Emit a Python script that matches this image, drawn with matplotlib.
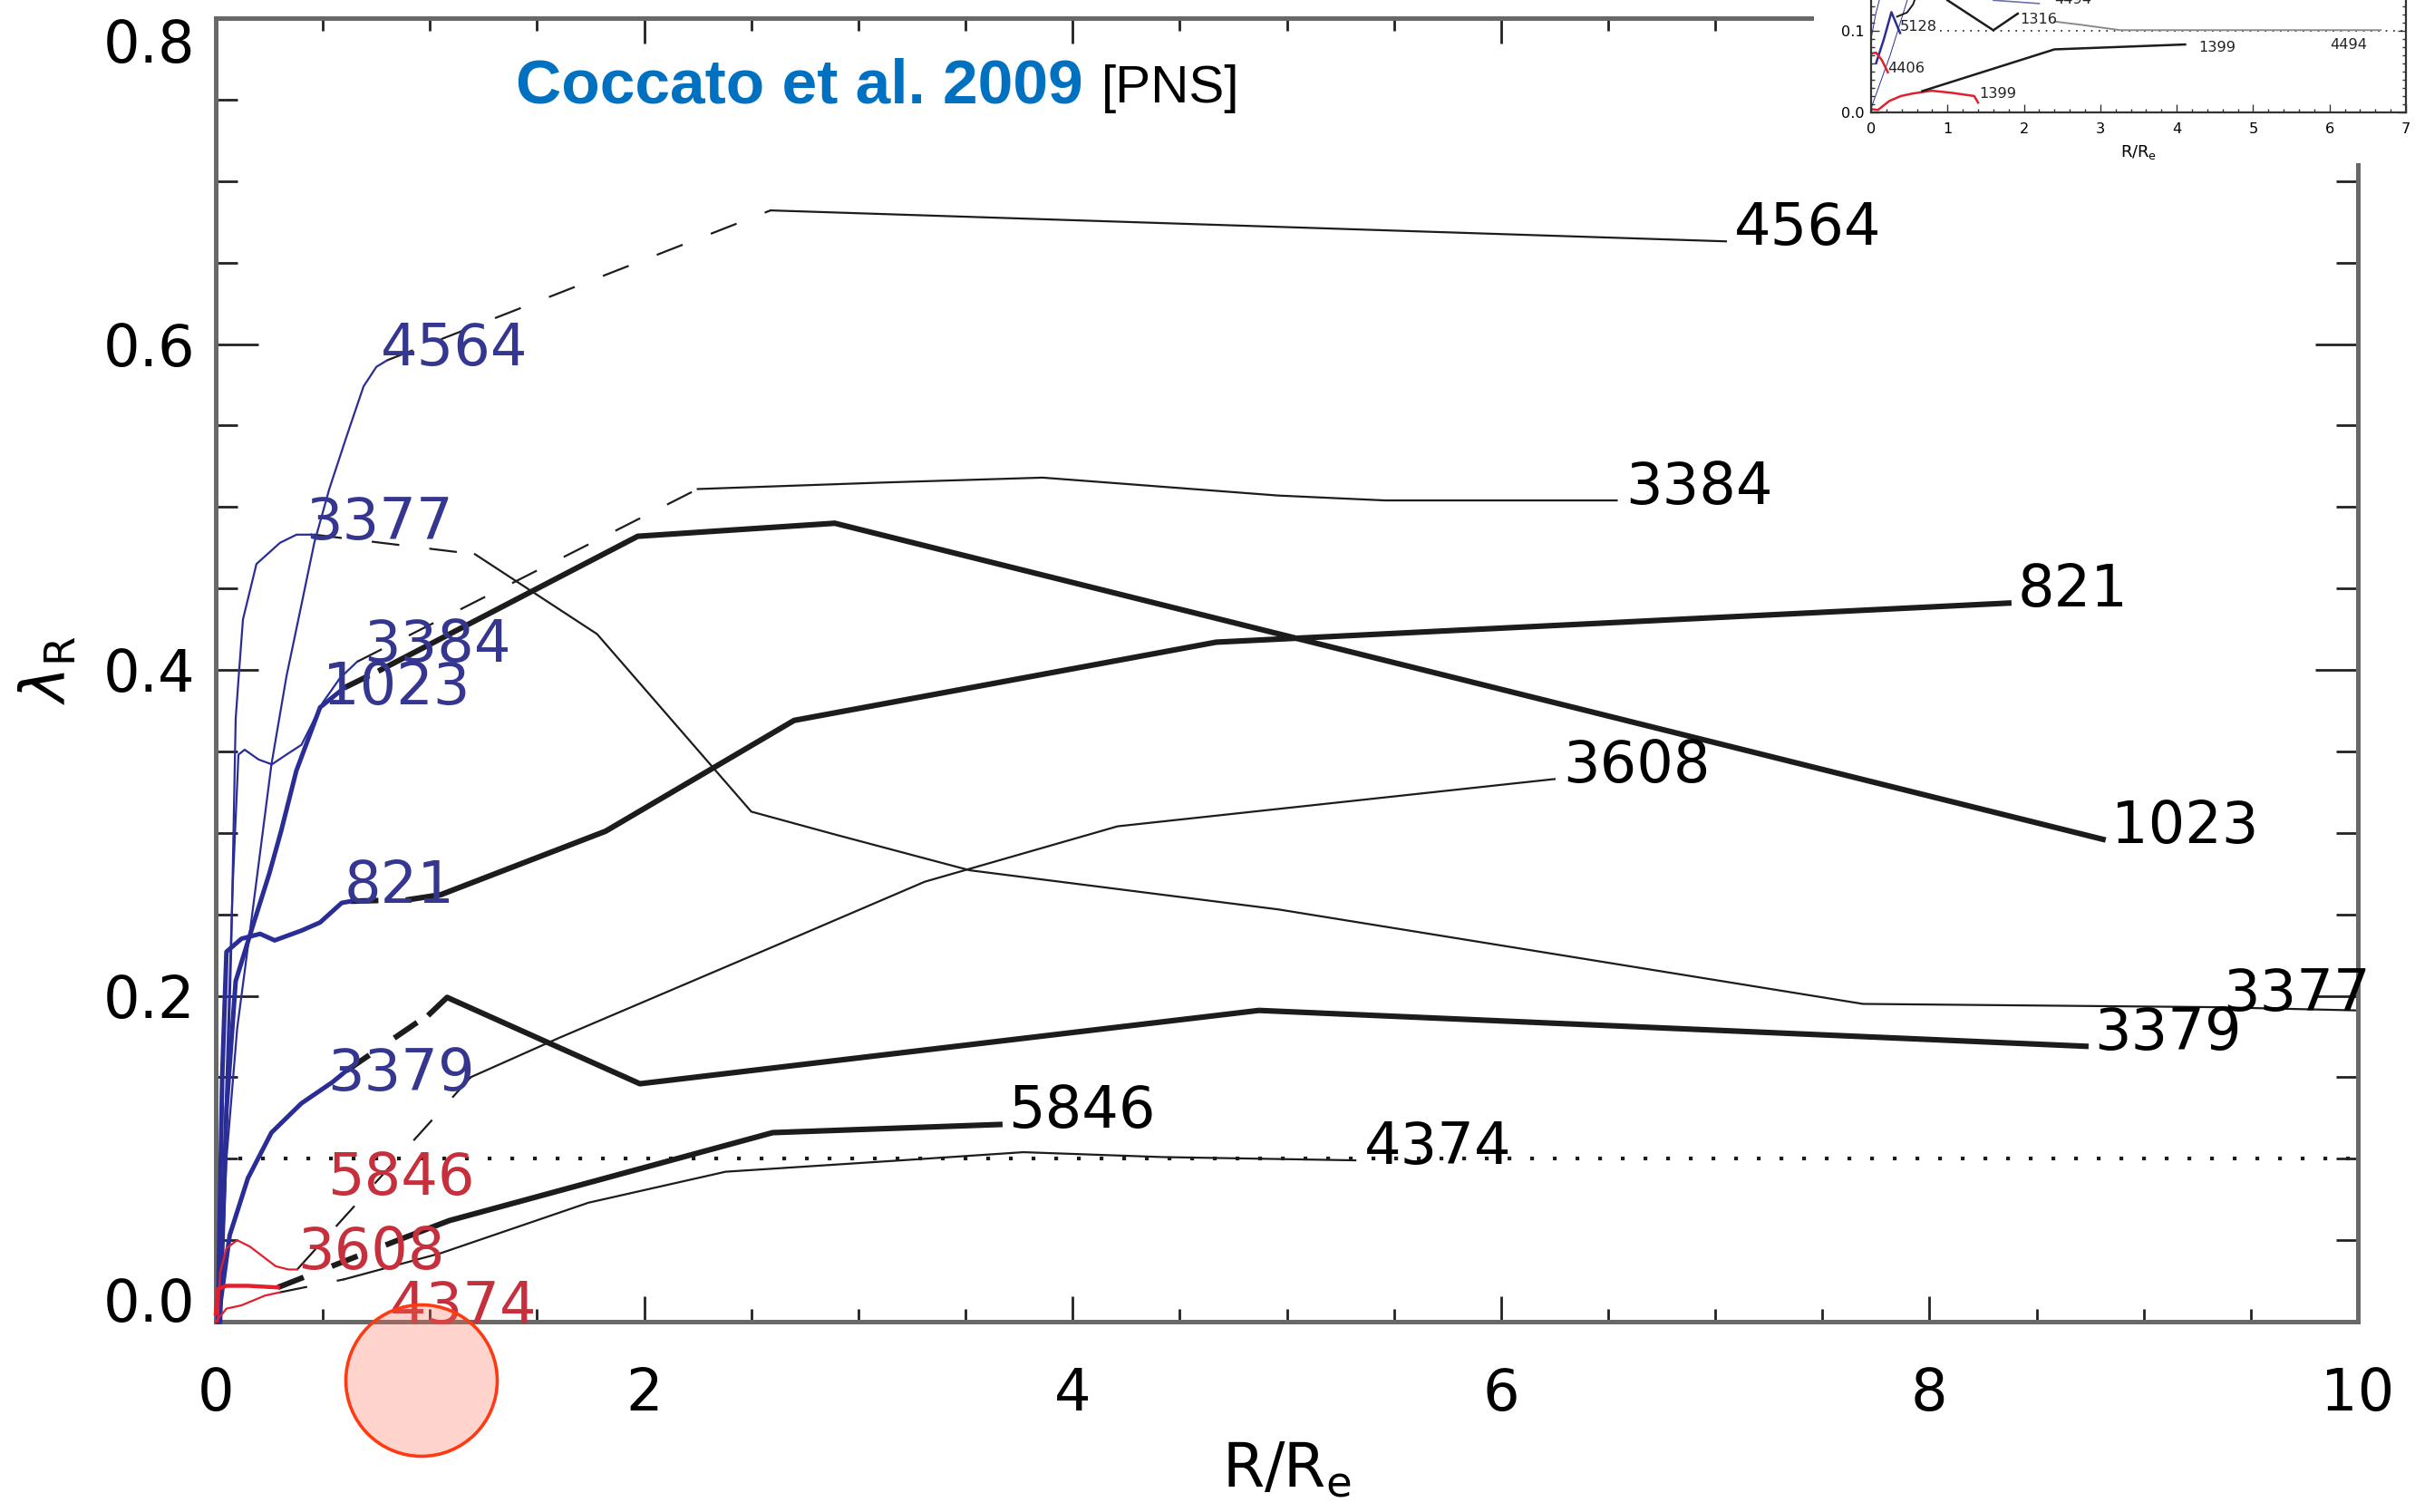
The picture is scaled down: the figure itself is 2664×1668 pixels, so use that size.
import matplotlib
matplotlib.use("Agg")
import matplotlib.pyplot as plt
from matplotlib.patches import Circle, Rectangle
from matplotlib.ticker import MultipleLocator, FormatStrFormatter

plt.rcParams['font.family'] = ['DejaVu Sans']
plt.rcParams['mathtext.fontset'] = 'dejavusans'
plt.rcParams['lines.scale_dashes'] = False
plt.rcParams['lines.solid_joinstyle'] = 'round'

# ---------------- main panel: lambda_R profiles vs R/Re ----------------
galaxies = ['4564', '3377', '3384', '1023', '821', '3379', '3608', '5846', '4374']

# inner (integral-field) profiles
inner_4564_x = [0.02, 0.05, 0.10, 0.17, 0.26, 0.33, 0.40, 0.46, 0.53, 0.61, 0.69, 0.75, 0.80]
inner_4564_y = [0.00, 0.10, 0.18, 0.25, 0.342, 0.396, 0.44, 0.478, 0.511, 0.543, 0.574, 0.586, 0.59]
inner_3377_x = [0.02, 0.05, 0.072, 0.093, 0.106, 0.127, 0.19, 0.30, 0.377, 0.46]
inner_3377_y = [0.00, 0.12, 0.227, 0.37, 0.394, 0.431, 0.465, 0.478, 0.483, 0.483]
inner_3384_x = [0.02, 0.05, 0.08, 0.106, 0.135, 0.20, 0.262, 0.33, 0.40, 0.50, 0.58, 0.66]
inner_3384_y = [0.00, 0.15, 0.27, 0.348, 0.351, 0.345, 0.342, 0.348, 0.354, 0.38, 0.395, 0.405]
inner_1023_x = [0.02, 0.05, 0.093, 0.178, 0.25, 0.305, 0.376, 0.43, 0.487, 0.60]
inner_1023_y = [0.00, 0.13, 0.209, 0.245, 0.275, 0.301, 0.338, 0.357, 0.377, 0.389]
inner_821_x = [0.01, 0.03, 0.05, 0.12, 0.207, 0.275, 0.40, 0.487, 0.588, 0.63]
inner_821_y = [0.00, 0.15, 0.227, 0.235, 0.238, 0.234, 0.24, 0.245, 0.257, 0.258]
inner_3379_x = [0.01, 0.065, 0.15, 0.26, 0.40, 0.545, 0.61]
inner_3379_y = [0.00, 0.053, 0.088, 0.116, 0.134, 0.147, 0.154]
inner_3608_x = [0.01, 0.02, 0.05, 0.10, 0.16, 0.22, 0.28, 0.34, 0.38]
inner_3608_y = [0.00, 0.03, 0.045, 0.05, 0.046, 0.04, 0.034, 0.032, 0.032]
inner_5846_x = [0.00, 0.01, 0.05, 0.15, 0.29]
inner_5846_y = [0.005, 0.02, 0.022, 0.022, 0.021]
inner_4374_x = [0.00, 0.05, 0.12, 0.23, 0.30]
inner_4374_y = [0.00, 0.008, 0.010, 0.016, 0.018]

# outer (planetary nebulae) profiles
outer_4564_x = [2.59, 7.05]
outer_4564_y = [0.682, 0.663]
outer_3377_x = [1.21, 1.78, 2.50, 2.89, 3.52, 4.96, 7.69, 9.33, 10.0]
outer_3377_y = [0.471, 0.422, 0.313, 0.299, 0.277, 0.253, 0.195, 0.193, 0.191]
outer_3384_x = [2.25, 3.12, 3.86, 4.96, 5.46, 6.54]
outer_3384_y = [0.511, 0.515, 0.518, 0.507, 0.504, 0.504]
outer_1023_x = [0.77, 1.97, 2.89, 8.81]
outer_1023_y = [0.40, 0.482, 0.490, 0.296]
outer_821_x = [0.90, 1.05, 1.82, 2.70, 4.67, 8.37]
outer_821_y = [0.259, 0.262, 0.301, 0.369, 0.417, 0.441]
outer_3379_x = [1.00, 1.08, 1.98, 4.87, 8.73]
outer_3379_y = [0.189, 0.199, 0.146, 0.191, 0.169]
outer_3608_x = [1.19, 1.60, 2.60, 3.31, 4.21, 6.25]
outer_3608_y = [0.150, 0.174, 0.230, 0.270, 0.304, 0.333]
outer_5846_x = [0.87, 1.09, 2.60, 3.66]
outer_5846_y = [0.051, 0.062, 0.116, 0.121]
outer_4374_x = [0.60, 1.05, 1.74, 2.38, 3.20, 3.77, 4.42, 5.32]
outer_4374_y = [0.026, 0.042, 0.073, 0.092, 0.099, 0.104, 0.101, 0.099]

# anchors of the coloured names next to the inner profiles
inner_label_x = [0.77, 0.42, 0.69, 0.50, 0.60, 0.52, 0.38, 0.52, 0.81]
inner_label_y = [0.587, 0.480, 0.405, 0.379, 0.257, 0.142, 0.032, 0.078, -0.001]

lambda_threshold = 0.1

xticks = [0, 2, 4, 6, 8, 10]
yticks = [0.0, 0.2, 0.4, 0.6, 0.8]

# ---------------- inset panel ----------------
ins_red_1399_x = [0.0, 0.09, 0.24, 0.39, 0.54, 0.79, 1.05, 1.35, 1.40]
ins_red_1399_y = [0.004, 0.003, 0.014, 0.020, 0.023, 0.0265, 0.024, 0.020, 0.012]
ins_black_1399_x = [0.67, 2.40, 4.11]
ins_black_1399_y = [0.026, 0.077, 0.083]
ins_red_4406_x = [0.0, 0.065, 0.14, 0.22]
ins_red_4406_y = [0.072, 0.073, 0.064, 0.049]
ins_blue_5128_x = [0.065, 0.166, 0.266, 0.38]
ins_blue_5128_y = [0.06, 0.089, 0.1225, 0.097]
ins_black_5128_x = [0.34, 0.47, 0.55, 0.58]
ins_black_5128_y = [0.117, 0.122, 0.132, 0.14]
ins_black_1316_x = [1.0, 1.6, 1.92]
ins_black_1316_y = [0.137, 0.1004, 0.1207]
ins_gray_4494_x = [2.4, 2.75, 3.26, 6.67]
ins_gray_4494_y = [0.111, 0.107, 0.1005, 0.1005]
ins_blue_4494_x = [1.6, 2.2]
ins_blue_4494_y = [0.137, 0.133]
ins_blue_a_x = [0.0, 0.25, 0.5]
ins_blue_a_y = [0.005, 0.07, 0.145]
ins_blue_b_x = [0.0, 0.06, 0.13]
ins_blue_b_y = [0.09, 0.12, 0.145]
ins_labels = ['5128', '1316', '4406', '1399', '1399', '4494', '4494']
ins_label_x = [0.38, 1.95, 0.22, 1.42, 4.29, 6.0, 2.4]
ins_label_y = [0.100, 0.1085, 0.049, 0.018, 0.074, 0.078, 0.133]

# ---------------- drawing ----------------
BLUE_LINE = '#2A2D96'
BLUE_TEXT = '#35368F'
RED_LINE = '#E0202C'
RED_TEXT = '#C5303C'
BLACK = '#1c1c1c'

inner = {
    '4564': (inner_4564_x, inner_4564_y), '3377': (inner_3377_x, inner_3377_y),
    '3384': (inner_3384_x, inner_3384_y), '1023': (inner_1023_x, inner_1023_y),
    '821': (inner_821_x, inner_821_y), '3379': (inner_3379_x, inner_3379_y),
    '3608': (inner_3608_x, inner_3608_y), '5846': (inner_5846_x, inner_5846_y),
    '4374': (inner_4374_x, inner_4374_y),
}
outer = {
    '4564': (outer_4564_x, outer_4564_y), '3377': (outer_3377_x, outer_3377_y),
    '3384': (outer_3384_x, outer_3384_y), '1023': (outer_1023_x, outer_1023_y),
    '821': (outer_821_x, outer_821_y), '3379': (outer_3379_x, outer_3379_y),
    '3608': (outer_3608_x, outer_3608_y), '5846': (outer_5846_x, outer_5846_y),
    '4374': (outer_4374_x, outer_4374_y),
}
thick = {'1023', '821', '3379', '5846'}
red_group = {'3608', '5846', '4374'}
label_index = {'3377': -2}

fig = plt.figure(figsize=(13.32, 8.34), dpi=200)
fig.patch.set_facecolor('white')
ax = fig.add_axes([238 / 2664, 1 - 1458 / 1668, (2601 - 238) / 2664, (1458 - 20) / 1668])
ax.set_xlim(0, 10)
ax.set_ylim(0, 0.8)

ax.axhline(lambda_threshold, color=BLACK, lw=1.5, ls=(0, (1.5, 7.5)), zorder=1)

for g, lx, ly in zip(galaxies, inner_label_x, inner_label_y):
    ix, iy = inner[g]
    ox, oy = outer[g]
    is_red = g in red_group
    col_line = RED_LINE if is_red else BLUE_LINE
    col_text = RED_TEXT if is_red else BLUE_TEXT
    w_in = 1.8 if (g in thick and not is_red) else (1.6 if g == '5846' else 0.8)
    w_out = 2.2 if g in thick else 0.8
    ax.plot(ix, iy, color=col_line, lw=w_in, zorder=3, clip_on=False)
    # dashed link from inner to outer profile
    ax.plot([ix[-1], ox[0]], [iy[-1], oy[0]], color=BLACK, lw=w_out,
            dashes=(11, 12), zorder=2)
    ax.plot(ox, oy, color=BLACK, lw=w_out, zorder=2)
    k = label_index.get(g, -1)
    ax.text(ox[k] + 0.04, oy[k] - 0.002, g, fontsize=23, color='black',
            ha='left', va='baseline', zorder=4, clip_on=False)
    ax.text(lx, ly, g, fontsize=23, color=col_text, ha='left', va='baseline',
            zorder=4, clip_on=False)

for side in ['left', 'right', 'top', 'bottom']:
    ax.spines[side].set_color('#686868')
    ax.spines[side].set_linewidth(1.8)

ax.set_xticks(xticks)
ax.set_yticks(yticks)
ax.xaxis.set_minor_locator(MultipleLocator(0.5))
ax.yaxis.set_minor_locator(MultipleLocator(0.05))
ax.xaxis.set_major_formatter(FormatStrFormatter('%d'))
ax.yaxis.set_major_formatter(FormatStrFormatter('%.1f'))
ax.tick_params(axis='both', which='both', direction='in', top=True, right=True,
               color='#222222', width=1.0)
ax.tick_params(axis='x', which='major', length=10, pad=17.5, labelsize=23)
ax.tick_params(axis='x', which='minor', length=5)
ax.tick_params(axis='y', which='major', length=17, pad=8, labelsize=23)
ax.tick_params(axis='y', which='minor', length=8.5)
yt = ax.yaxis.get_major_ticks()
yt[0].label1.set_va('baseline')
yt[-1].label1.set_va('top')

ax.set_xlabel(r'R/R$_\mathregular{e}$', fontsize=24)
ax.xaxis.set_label_coords(0.5, -0.091)
ax.set_ylabel(r'$\lambda_\mathrm{R}$', fontsize=24, va='center')
ax.yaxis.set_label_coords(-0.078, 0.5)

fig.text(569 / 2664, 1 - 113 / 1668, 'Coccato et al. 2009', color='#0070C0',
         fontsize=25, fontweight='bold', family='Liberation Sans', va='baseline')
fig.text(1215 / 2664, 1 - 113 / 1668, '[PNS]', color='black', fontsize=21,
         family='Liberation Sans', va='baseline')

# inset panel in the upper right corner
fig.add_artist(Rectangle((2001 / 2664, 1 - 180 / 1668), 663 / 2664, 180 / 1668,
                         transform=fig.transFigure, facecolor='white',
                         edgecolor='none', zorder=2))
ins = fig.add_axes([2064 / 2664, 1 - 124 / 1668, 590 / 2664, 180.6 / 1668], zorder=3)
ins.set_facecolor('none')
ins.set_xlim(0, 7)
ins.set_ylim(0, 0.2)
ins.plot([0.9, 7.0], [lambda_threshold, lambda_threshold], color=BLACK, lw=0.6,
         ls=(0, (0.6, 2.4)))
ins.plot(ins_blue_a_x, ins_blue_a_y, color=BLUE_LINE, lw=0.35)
ins.plot(ins_blue_b_x, ins_blue_b_y, color=BLUE_LINE, lw=0.35)
ins.plot(ins_blue_5128_x, ins_blue_5128_y, color=BLUE_LINE, lw=0.9)
ins.plot(ins_blue_4494_x, ins_blue_4494_y, color='#6a6fb0', lw=0.6)
ins.plot(ins_red_1399_x, ins_red_1399_y, color=RED_LINE, lw=0.9)
ins.plot(ins_red_4406_x, ins_red_4406_y, color=RED_LINE, lw=0.9)
ins.plot(ins_black_1399_x, ins_black_1399_y, color=BLACK, lw=0.9)
ins.plot(ins_black_5128_x, ins_black_5128_y, color=BLACK, lw=0.7)
ins.plot(ins_black_1316_x, ins_black_1316_y, color=BLACK, lw=0.9)
ins.plot(ins_gray_4494_x, ins_gray_4494_y, color='#8a8a8a', lw=0.7)
for t, x, y in zip(ins_labels, ins_label_x, ins_label_y):
    ins.text(x, y, t, fontsize=5.8, ha='left', va='baseline', color='#222222')
for side in ['left', 'right', 'top', 'bottom']:
    ins.spines[side].set_color('#333333')
    ins.spines[side].set_linewidth(0.8)
ins.xaxis.set_major_locator(MultipleLocator(1))
ins.xaxis.set_minor_locator(MultipleLocator(0.2))
ins.yaxis.set_major_locator(MultipleLocator(0.1))
ins.yaxis.set_minor_locator(MultipleLocator(0.01))
ins.xaxis.set_major_formatter(FormatStrFormatter('%d'))
ins.yaxis.set_major_formatter(FormatStrFormatter('%.1f'))
ins.tick_params(axis='both', which='both', direction='in', top=True, right=True,
                color='#333333', width=0.5, labelsize=5.8)
ins.tick_params(axis='both', which='major', length=3.2)
ins.tick_params(axis='both', which='minor', length=1.6)
ins.tick_params(axis='x', which='major', pad=4)
ins.tick_params(axis='y', which='major', pad=2.5)
ins.set_xlabel(r'R/R$_\mathregular{e}$', fontsize=6.5)
ins.xaxis.set_label_coords(0.5, -0.19)

# highlight marker near the lower left
fig.add_artist(Circle((465 / 200, (1668 - 1523) / 200), 83.5 / 200,
                      transform=fig.dpi_scale_trans,
                      facecolor=(1.0, 0.45, 0.35, 0.3), edgecolor='#FF3A12',
                      lw=1.3, zorder=6))

fig.savefig('out.png', dpi=200, facecolor='white')
